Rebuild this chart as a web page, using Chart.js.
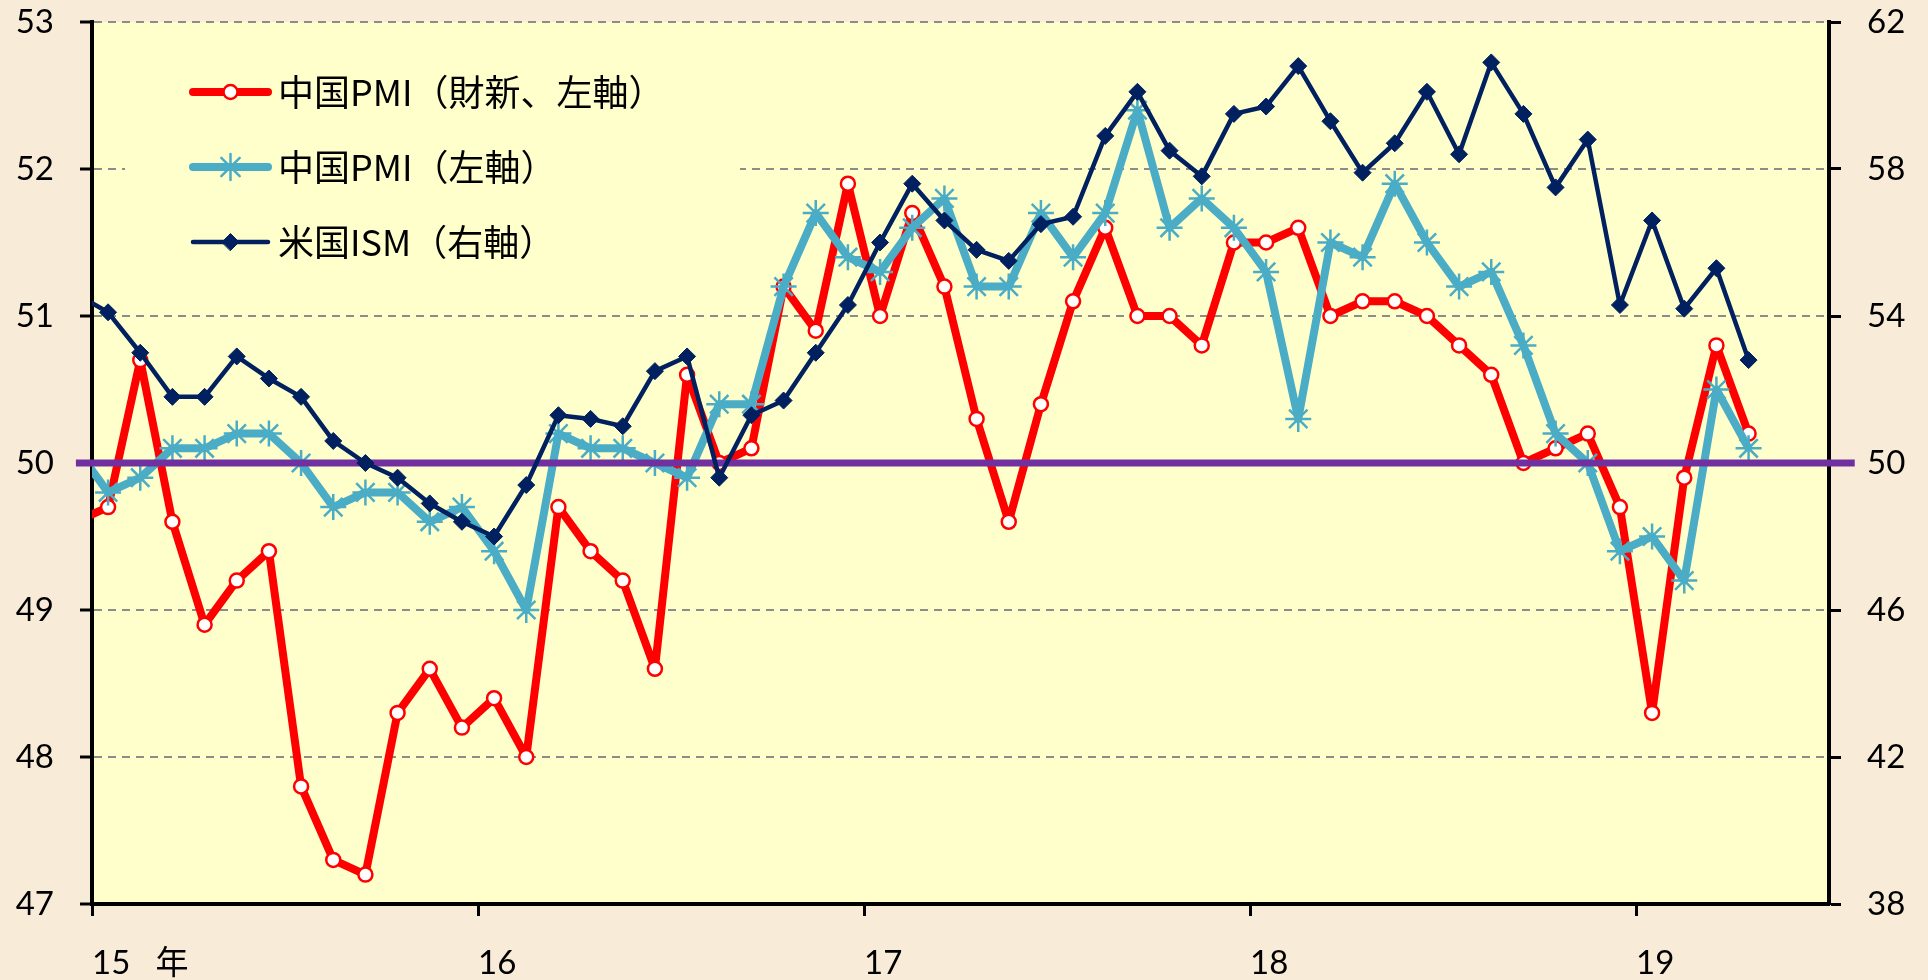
<!DOCTYPE html>
<html lang="ja">
<head>
<meta charset="utf-8">
<title>中国PMIと米国ISM</title>
<script src="https://cdn.jsdelivr.net/npm/chart.js@4/dist/chart.umd.min.js"></script>
<style>
	html, body { margin: 0; padding: 0; overflow: hidden; background: #f8ecd9; }
	#wrap { width: 1928px; height: 980px; }
	canvas { display: block; }
</style>
</head>
<body>
<div id="wrap"><canvas id="pmi" width="1928" height="980"></canvas></div>
<script>
// 月次 2014年12月～2019年4月 (x軸: 15年1月 = 0.5)
const firstMonth = -0.5
const caixinPmi = [49.6,
	49.7, 50.7, 49.6, 48.9, 49.2, 49.4, 47.8, 47.3, 47.2, 48.3, 48.6, 48.2,
	48.4, 48.0, 49.7, 49.4, 49.2, 48.6, 50.6, 50.0, 50.1, 51.2, 50.9, 51.9,
	51.0, 51.7, 51.2, 50.3, 49.6, 50.4, 51.1, 51.6, 51.0, 51.0, 50.8, 51.5,
	51.5, 51.6, 51.0, 51.1, 51.1, 51.0, 50.8, 50.6, 50.0, 50.1, 50.2, 49.7,
	48.3, 49.9, 50.8, 50.2]
const nbsPmi = [50.1,
	49.8, 49.9, 50.1, 50.1, 50.2, 50.2, 50.0, 49.7, 49.8, 49.8, 49.6, 49.7,
	49.4, 49.0, 50.2, 50.1, 50.1, 50.0, 49.9, 50.4, 50.4, 51.2, 51.7, 51.4,
	51.3, 51.6, 51.8, 51.2, 51.2, 51.7, 51.4, 51.7, 52.4, 51.6, 51.8, 51.6,
	51.3, 50.3, 51.5, 51.4, 51.9, 51.5, 51.2, 51.3, 50.8, 50.2, 50.0, 49.4,
	49.5, 49.2, 50.5, 50.1]
const usIsm = [54.6,
	54.1, 53.0, 51.8, 51.8, 52.9, 52.3, 51.8, 50.6, 50.0, 49.6, 48.9, 48.4,
	48.0, 49.4, 51.3, 51.2, 51.0, 52.5, 52.9, 49.6, 51.3, 51.7, 53.0, 54.3,
	56.0, 57.6, 56.6, 55.8, 55.5, 56.5, 56.7, 58.9, 60.1, 58.5, 57.8, 59.5,
	59.7, 60.8, 59.3, 57.9, 58.7, 60.1, 58.4, 60.9, 59.5, 57.5, 58.8, 54.3,
	56.6, 54.2, 55.3, 52.8]
const line50 = [50, 50]
const line50Span = [-0.5, 54.8]
const yearTicks = [0, 12, 24, 36, 48]
const yearLabels = ['15   年', '16', '17', '18', '19']
const seriesNames = ['中国PMI（財新、左軸）', '中国PMI（左軸）', '米国ISM（右軸）']

var pmiChart = pmiChart || {}
pmiChart = (() => {
	let canvas, tickFont
	let init = () => {
		canvas = document.getElementById('pmi')
		tickFont = { family: 'Lato, "Noto Sans CJK JP", sans-serif', size: 33 }
	}
	let toPoints = values => values.map((v, i) => ({ x: firstMonth + i, y: v }))
	// 縦軸の幅を固定し、ラベル分の上下余白は付けない
	let fixWidth = w => s => {
		s.width = w
		s.paddingTop = 0
		s.paddingBottom = 0
	}

	// 描画領域の塗り
	let plotBg = {
		id: 'plotBg',
		beforeDraw: c => {
			let a = c.chartArea, g = c.ctx
			g.save()
			g.fillStyle = '#ffffcc'
			g.fillRect(a.left, a.top, a.right - a.left, a.bottom - a.top)
			g.restore()
		}
	}
	// 凡例 (線+マーカー)
	let legendBox = {
		id: 'legendBox',
		beforeDatasetsDraw: c => {
			let g = c.ctx
			g.save()
			g.fillStyle = '#ffffcc'
			g.fillRect(125, 40, 615, 245)
			seriesNames.forEach((name, i) => {
				let ds = c.data.datasets[i]
				let y = 92 + i * 75
				g.strokeStyle = ds.borderColor
				g.lineWidth = ds.borderWidth
				g.lineCap = 'round'
				g.beginPath()
				g.moveTo(193, y)
				g.lineTo(268, y)
				g.stroke()
				g.fillStyle = ds.pointBackgroundColor
				g.strokeStyle = ds.pointBorderColor
				g.lineWidth = ds.pointBorderWidth
				Chart.helpers.drawPoint(g, {
					pointStyle: ds.pointStyle, radius: ds.pointRadius,
					borderWidth: ds.pointBorderWidth, rotation: 0
				}, 230.5, y)
				g.fillStyle = '#000'
				g.font = '36px "Noto Sans CJK JP", sans-serif'
				g.textBaseline = 'middle'
				g.textAlign = 'left'
				g.fillText(name, 278, y)
			})
			g.restore()
		}
	}

	let setChart = () => {
		new Chart(canvas, {
			type: 'line',
			data: {
				datasets: [{
					label: seriesNames[0],
					data: toPoints(caixinPmi),
					yAxisID: 'y',
					borderColor: '#ff0000',
					borderWidth: 8,
					borderJoinStyle: 'round',
					pointStyle: 'circle',
					pointRadius: 7,
					pointBackgroundColor: '#ffffff',
					pointBorderColor: '#ff0000',
					pointBorderWidth: 2.5,
					clip: 0,
					order: 3
				}, {
					label: seriesNames[1],
					data: toPoints(nbsPmi),
					yAxisID: 'y',
					borderColor: '#4bacc6',
					borderWidth: 8,
					borderJoinStyle: 'round',
					pointStyle: 'star',
					pointRadius: 13,
					pointBackgroundColor: '#4bacc6',
					pointBorderColor: '#4bacc6',
					pointBorderWidth: 2.5,
					clip: 0,
					order: 2
				}, {
					label: seriesNames[2],
					data: toPoints(usIsm),
					yAxisID: 'y2',
					borderColor: '#002060',
					borderWidth: 4.5,
					borderJoinStyle: 'round',
					pointStyle: 'rectRot',
					pointRadius: 8.5,
					pointBackgroundColor: '#002060',
					pointBorderColor: '#002060',
					pointBorderWidth: 1,
					clip: 0,
					order: 0
				}, {
					label: '50',
					data: line50Span.map((x, i) => ({ x: x, y: line50[i] })),
					yAxisID: 'y',
					borderColor: '#7030a0',
					borderWidth: 7,
					pointRadius: 0,
					clip: false,
					order: 1
				}]
			},
			options: {
				responsive: false,
				animation: false,
				events: [],
				layout: { padding: { top: 22, left: 0, right: 0, bottom: 0 } },
				plugins: {
					legend: { display: false },
					tooltip: { enabled: false }
				},
				scales: {
					x: {
						type: 'linear',
						min: 0,
						max: 54,
						afterBuildTicks: s => { s.ticks = yearTicks.map(v => ({ value: v })) },
						afterFit: s => {
							s.height = 76
							s.paddingLeft = 0
							s.paddingRight = 0
						},
						grid: { drawOnChartArea: false, tickLength: 12, tickColor: '#000', tickWidth: 3 },
						border: { color: '#000', width: 4 },
						ticks: {
							align: 'start',
							padding: 28,
							color: '#000',
							font: tickFont,
							maxRotation: 0,
							callback: v => yearLabels[yearTicks.indexOf(v)]
						}
					},
					y: {
						position: 'left',
						min: 47,
						max: 53,
						afterFit: fixWidth(92),
						grid: {
							color: c => c.tick && c.tick.value === 47 ? 'rgba(0,0,0,0)' : '#8c8c8c',
							lineWidth: 2,
							tickLength: 12,
							tickColor: '#000',
							tickWidth: 3
						},
						border: { color: '#000', width: 4, dash: [8, 6] },
						ticks: { stepSize: 1, padding: 26, color: '#000', font: tickFont }
					},
					y2: {
						position: 'right',
						min: 38,
						max: 62,
						afterFit: fixWidth(99),
						grid: { drawOnChartArea: false, tickLength: 12, tickColor: '#000', tickWidth: 3 },
						border: { color: '#000', width: 4 },
						ticks: { stepSize: 4, padding: 26, color: '#000', font: tickFont }
					}
				}
			},
			plugins: [plotBg, legendBox]
		})
	}
	let onCreate = () => {
		init()
		setChart()
	}
	return { onCreate }
})()
pmiChart.onCreate()
</script>
</body>
</html>
